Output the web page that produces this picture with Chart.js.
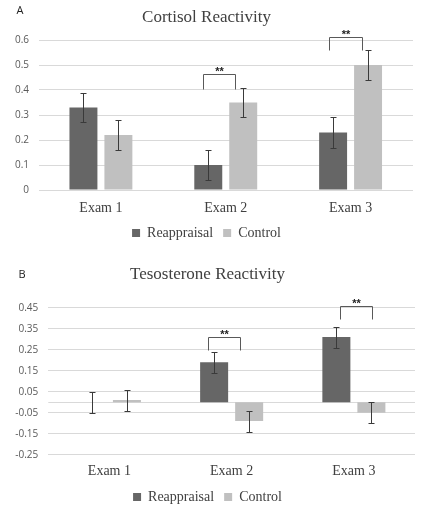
<!DOCTYPE html>
<html><head><meta charset="utf-8">
<script src="https://cdn.jsdelivr.net/npm/chart.js@4.4.0/dist/chart.umd.min.js"></script>
<style>
html,body{margin:0;padding:0;background:#fff;overflow:hidden;width:432px;height:512px;}
#wa{position:absolute;left:0;top:0;width:432px;height:250px;}
#wb{position:absolute;left:0;top:250px;width:432px;height:264px;}
</style></head><body>
<div id="wa"><canvas id="ca"></canvas></div>
<div id="wb"><canvas id="cb"></canvas></div>
<script>
// ---- data ----
const categories = ['Exam 1', 'Exam 2', 'Exam 3'];
const seriesNames = ['Reappraisal', 'Control'];

const cortisolReappraisal = [0.33, 0.10, 0.23];
const cortisolControl = [0.22, 0.35, 0.50];
const cortisolReappraisalErr = [0.06, 0.06, 0.06];
const cortisolControlErr = [0.06, 0.06, 0.06];
const cortisolTickValues = [0, 0.1, 0.2, 0.3, 0.4, 0.5, 0.6];
const cortisolTickLabels = ['0', '0.1', '0.2', '0.3', '0.4', '0.5', '0.6'];
const cortisolSignificance = [
  {cat: 1, top: 0.464, foot: 0.405, label: '**'},
  {cat: 2, top: 0.612, foot: 0.56, label: '**'}
];

const testoReappraisal = [0.00, 0.19, 0.31];
const testoControl = [0.01, -0.09, -0.05];
const testoReappraisalErr = [0.05, 0.05, 0.05];
const testoControlErr = [0.05, 0.05, 0.05];
const testoTickValues = [-0.25, -0.15, -0.05, 0.05, 0.15, 0.25, 0.35, 0.45];
const testoTickLabels = ['-0.25', '-0.15', '-0.05', '0.05', '0.15', '0.25', '0.35', '0.45'];
const testoSignificance = [
  {cat: 1, top: 0.311, foot: 0.249, label: '**'},
  {cat: 2, top: 0.459, foot: 0.397, label: '**'}
];

// ---- style ----
const DARK = '#666666';
const LIGHT = '#c0c0c0';
const GRID = '#d9d9d9';
const TEXT = '#404040';
const TICK = '#595959';
const SERIF = "'Liberation Serif', serif";

const overlay = {
  id: 'overlay',
  beforeDatasetsDraw(chart, args, opts) {
    if (!opts.zeroLine) return;
    const ctx = chart.ctx, ys = chart.scales.y, ca = chart.chartArea;
    const y0 = Math.round(ys.getPixelForValue(0)) + 0.5;
    ctx.save();
    ctx.strokeStyle = GRID; ctx.lineWidth = 1;
    ctx.beginPath(); ctx.moveTo(ca.left, y0); ctx.lineTo(ca.right, y0); ctx.stroke();
    ctx.restore();
  },
  afterDatasetsDraw(chart, args, opts) {
    const ctx = chart.ctx, ys = chart.scales.y;
    ctx.save();
    // error bars
    ctx.strokeStyle = '#3a3a3a'; ctx.lineWidth = 1;
    chart.data.datasets.forEach((ds, di) => {
      const meta = chart.getDatasetMeta(di);
      meta.data.forEach((bar, i) => {
        const v = ds.data[i], e = ds.errors[i];
        const x = Math.round(bar.x) + 0.5;
        const yt = Math.round(ys.getPixelForValue(v + e)) + 0.5;
        const yb = Math.round(ys.getPixelForValue(v - e)) + 0.5;
        ctx.beginPath();
        ctx.moveTo(x, yt); ctx.lineTo(x, yb);
        ctx.moveTo(x - 3, yt); ctx.lineTo(x + 3, yt);
        ctx.moveTo(x - 3, yb); ctx.lineTo(x + 3, yb);
        ctx.stroke();
      });
    });
    // significance brackets
    const m0 = chart.getDatasetMeta(0), m1 = chart.getDatasetMeta(1);
    (opts.sig || []).forEach((s, k) => {
      const sh = opts.shifts[k];
      const xl = Math.round(m0.data[s.cat].x + sh[0]) + 0.5;
      const xr = Math.round(m1.data[s.cat].x + sh[1]) + 0.5;
      const yt = Math.round(ys.getPixelForValue(s.top)) + 0.5;
      const yf = Math.round(ys.getPixelForValue(s.foot)) + 0.5;
      ctx.strokeStyle = '#595959'; ctx.lineWidth = 1;
      ctx.beginPath();
      ctx.moveTo(xl, yf); ctx.lineTo(xl, yt); ctx.lineTo(xr, yt); ctx.lineTo(xr, yf);
      ctx.stroke();
      ctx.fillStyle = '#222';
      ctx.font = "bold 11px 'Liberation Sans', Arial, sans-serif";
      ctx.textAlign = 'center'; ctx.textBaseline = 'alphabetic';
      ctx.fillText(s.label, (xl + xr) / 2, yt);
    });
    // panel letter
    ctx.fillStyle = '#222';
    ctx.font = "11px 'Open Sans', sans-serif";
    ctx.textAlign = 'center'; ctx.textBaseline = 'middle';
    ctx.fillText(opts.letter, opts.letterX, opts.letterY);
    ctx.restore();
  }
};

function makeChart(id, cfg) {
  return new Chart(document.getElementById(id), {
    type: 'bar',
    data: {
      labels: categories,
      datasets: [
        {label: seriesNames[0], data: cfg.r, errors: cfg.re, backgroundColor: DARK, borderWidth: 0,
         categoryPercentage: cfg.catPct, barPercentage: 0.8},
        {label: seriesNames[1], data: cfg.c, errors: cfg.ce, backgroundColor: LIGHT, borderWidth: 0,
         categoryPercentage: cfg.catPct, barPercentage: 0.8}
      ]
    },
    options: {
      responsive: true,
      maintainAspectRatio: false,
      animation: false,
      devicePixelRatio: 1,
      layout: {padding: {left: 0, right: cfg.padRight, top: 0, bottom: 0}},
      scales: {
        x: {
          grid: {display: false, drawTicks: false},
          border: {display: false},
          ticks: {font: {family: SERIF, size: 14}, color: TEXT, padding: cfg.xPad},
          afterFit: s => { s.height = cfg.xHeight; }
        },
        y: {
          min: cfg.min, max: cfg.max,
          afterBuildTicks: s => { s.ticks = cfg.tickValues.map(v => ({value: v})); },
          grid: {color: GRID, drawTicks: false, lineWidth: 1},
          border: {display: false},
          ticks: {
            font: {family: "'Open Sans', sans-serif", size: 10}, color: TICK, padding: cfg.yPad,
            callback: (v, i) => cfg.tickLabels[i]
          },
          afterFit: s => { s.width = cfg.yWidth; }
        }
      },
      plugins: {
        title: {
          display: true, text: cfg.title, color: TEXT,
          font: {family: SERIF, size: 17, weight: 'normal'},
          padding: {top: cfg.titleTop, bottom: cfg.titleBottom}
        },
        legend: {
          position: 'bottom',
          labels: {boxWidth: 8, boxHeight: 8, padding: 10, color: TEXT,
                   font: {family: SERIF, size: 14, weight: 'normal', style: 'normal'}}
        },
        tooltip: {enabled: false},
        overlay: {zeroLine: cfg.zeroLine, sig: cfg.sig, shifts: cfg.shifts,
                  letter: cfg.letter, letterX: cfg.letterX, letterY: cfg.letterY}
      }
    },
    plugins: [overlay]
  });
}

makeChart('ca', {
  r: cortisolReappraisal, c: cortisolControl, re: cortisolReappraisalErr, ce: cortisolControlErr,
  tickValues: cortisolTickValues, tickLabels: cortisolTickLabels, min: 0, max: 0.6,
  title: 'Cortisol Reactivity', titleTop: 7.8, titleBottom: 11.8,
  xPad: 9.6, xHeight: 26, yWidth: 38.5, yPad: 9.5, padRight: 19, catPct: 0.56,
  zeroLine: false, sig: cortisolSignificance, shifts: [[-5, -8], [-4, -6]],
  letter: 'A', letterX: 20, letterY: 11
});
makeChart('cb', {
  r: testoReappraisal, c: testoControl, re: testoReappraisalErr, ce: testoControlErr,
  tickValues: testoTickValues, tickLabels: testoTickLabels, min: -0.25, max: 0.45,
  title: 'Tesosterone Reactivity', titleTop: 14.8, titleBottom: 22.5,
  xPad: 7.9, xHeight: 25.3, yWidth: 48.3, yPad: 10, padRight: 17, catPct: 0.573,
  zeroLine: true, sig: testoSignificance, shifts: [[-6, -9], [4, 1]],
  letter: 'B', letterX: 22, letterY: 25
});
</script>
</body></html>
